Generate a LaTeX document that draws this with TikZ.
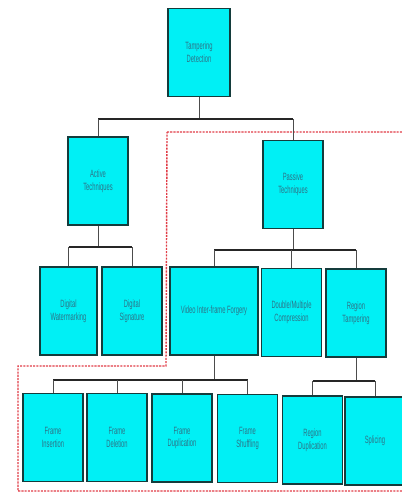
\documentclass[tikz,border=0pt]{standalone}
\usepackage{fontspec}
\setmainfont{Liberation Sans}[FakeStretch=0.55]
\usepackage{xcolor}
\definecolor{boxcyan}{RGB}{0,240,245}
\definecolor{boxedge}{RGB}{20,60,60}
\definecolor{labeltxt}{RGB}{45,115,135}
\definecolor{regionred}{RGB}{225,60,70}

\begin{document}
\begin{tikzpicture}[x=0.025cm, y=-0.025cm,
    cat/.style={draw=boxedge, line width=0.9pt, fill=boxcyan, inner sep=1pt,
      minimum width=1.5cm, minimum height=2.2cm, align=center,
      font=\fontsize{7.5}{9}\selectfont\color{labeltxt}},
    bar/.style={line width=1.3pt, color=black!85},
    stem/.style={line width=0.7pt, color=black!70}]
  \useasboundingbox (0,0) rectangle (401,493);

  % passive region
  \draw[densely dashed, dash pattern=on 1.5pt off 0.8pt, line width=1pt, color=regionred]
    (167,132) -- (430,132) -- (430,491) -- (18,491) -- (18,366) -- (166,366) -- cycle;

  \node[cat, minimum width=1.55cm] (det) at (199,52.5) {Tampering\\Detection};
  \node[cat] (act) at (98,181) {Active\\Techniques};
  \node[cat] (pas) at (293,184.5) {Passive\\Techniques};

  \node[cat, minimum width=1.43cm] (wm) at (68.5,311) {Digital\\Watermarking};
  \node[cat] (sig) at (132,311) {Digital\\Signature};

  \node[cat, minimum width=2.2cm] (vif) at (214,311) {Video Inter-frame Forgery};
  \node[cat] (dmc) at (291.5,312.5) {Double/Multiple\\Compression};
  \node[cat] (reg) at (356,313) {Region\\Tampering};

  \node[cat] (ins) at (53,437.5) {Frame\\Insertion};
  \node[cat] (del) at (117,437.5) {Frame\\Deletion};
  \node[cat] (dup) at (182,438) {Frame\\Duplication};
  \node[cat] (shu) at (247.5,438.5) {Frame\\Shuffling};
  \node[cat] (rdup) at (312.5,440) {Region\\Duplication};
  \node[cat] (spl) at (375,441) {Splicing};

  % tree bars
  \coordinate (detbar) at (199,119);
  \coordinate (actbar) at (98,247);
  \coordinate (pasbar) at (293,250);
  \coordinate (vifbar) at (214,380);
  \coordinate (regbar) at (356,381);

  \draw[stem] (det.south) -- (detbar);
  \draw[bar] (act.north |- detbar) -- (pas.north |- detbar);
  \foreach \c in {act,pas} \draw[stem] (\c.north |- detbar) -- (\c.north);

  \draw[stem] (act.south) -- (actbar);
  \draw[bar] (wm.north |- actbar) -- (sig.north |- actbar);
  \foreach \c in {wm,sig} \draw[stem] (\c.north |- actbar) -- (\c.north);

  \draw[stem] (pas.south) -- (pasbar);
  \draw[bar] (vif.north |- pasbar) -- (reg.north |- pasbar);
  \foreach \c in {vif,dmc,reg} \draw[stem] (\c.north |- pasbar) -- (\c.north);

  \draw[stem] (vif.south) -- (vifbar);
  \draw[bar] (ins.north |- vifbar) -- (shu.north |- vifbar);
  \foreach \c in {ins,del,dup,shu} \draw[stem] (\c.north |- vifbar) -- (\c.north);

  \draw[stem] (reg.south) -- (regbar);
  \draw[bar] (rdup.north |- regbar) -- (spl.north |- regbar);
  \foreach \c in {rdup,spl} \draw[stem] (\c.north |- regbar) -- (\c.north);
\end{tikzpicture}
\end{document}
